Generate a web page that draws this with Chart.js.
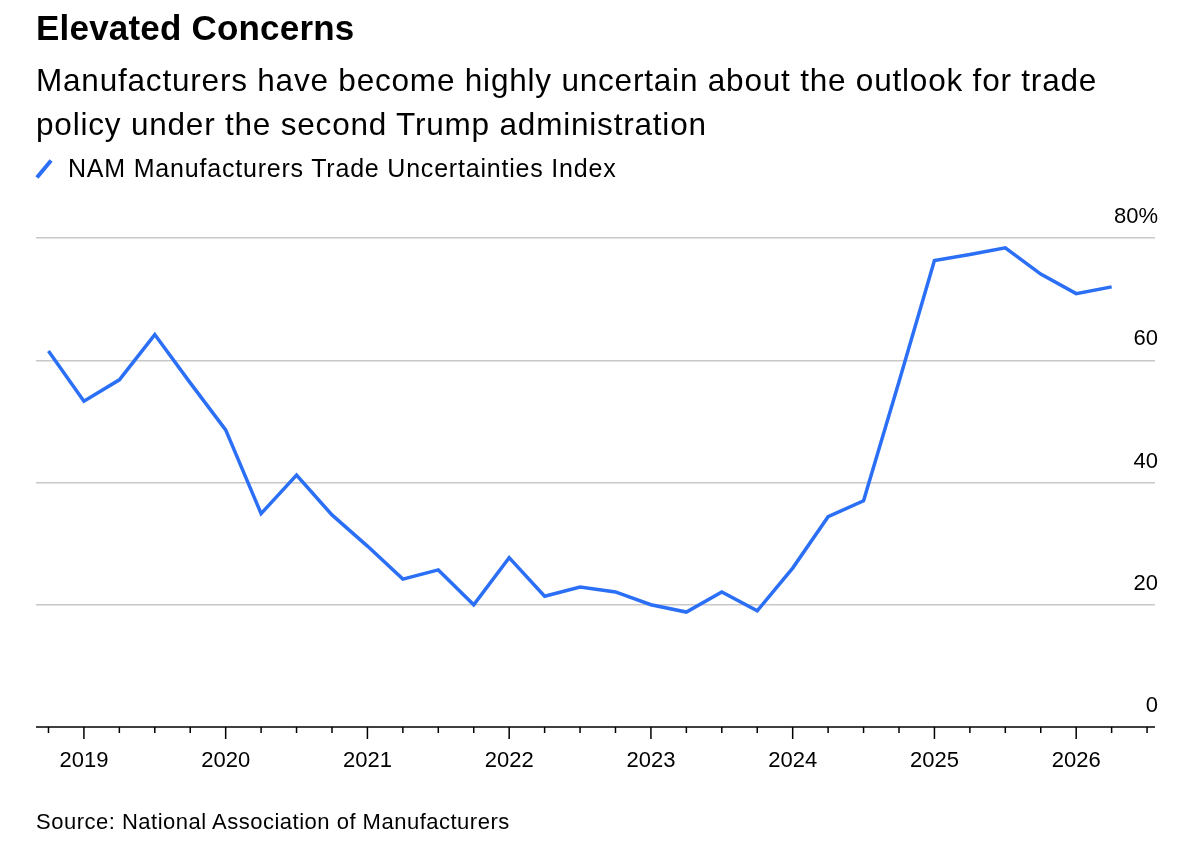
<!DOCTYPE html>
<html>
<head>
<meta charset="utf-8">
<script src="https://cdn.jsdelivr.net/npm/chart.js@4"></script>
<style>
  body { margin: 0; background: #fff; font-family: "Liberation Sans", Arial, sans-serif; color: #000; }
  #wrap { position: relative; width: 1200px; height: 858px; }
  canvas { position: absolute; left: 0; top: 0; }
  .title { position: absolute; left: 36px; top: 8px; font-size: 35px; font-weight: bold; letter-spacing: 0.2px; }
  .sub { position: absolute; left: 36px; top: 58px; font-size: 31.5px; letter-spacing: 0.8px; line-height: 44px; width: 1125px; }
  .legend { position: absolute; left: 36px; top: 154px; font-size: 25px; letter-spacing: 0.8px; }
  .legend i { display: inline-block; width: 4px; height: 22px; background: #2a6ff5; transform: rotate(40deg); margin: 0 22px -3px 6px; }
  .source { position: absolute; left: 36px; top: 809px; font-size: 22px; letter-spacing: 0.5px; }
</style>
</head>
<body>
<div id="wrap">
  <canvas id="c" width="1200" height="858"></canvas>
  <div class="title">Elevated Concerns</div>
  <div class="sub">Manufacturers have become highly uncertain about the outlook for trade policy under the second Trump administration</div>
  <div class="legend"><i></i>NAM Manufacturers Trade Uncertainties Index</div>
  <div class="source">Source: National Association of Manufacturers</div>
</div>
<script>
// quarterly, starting 2018 Q4
const startYear = 2018.75;
const values = [61.5, 53.3, 56.8, 64.2, 56.3, 48.6, 34.9, 41.2, 34.7, 29.6, 24.2, 25.7,
  20.0, 27.7, 21.4, 22.9, 22.1, 20.0, 18.8, 22.1, 19.0, 26.0, 34.4, 37.0,
  56.5, 76.3, 77.3, 78.4, 74.1, 70.9, 72.0];
const yearTicks = [2019, 2020, 2021, 2022, 2023, 2024, 2025, 2026];
const yTicks = [0, 20, 40, 60, 80];

const points = values.map((v, i) => ({ x: startYear + i * 0.25, y: v }));

const axisTicks = {
  id: 'axisTicks',
  afterDraw(chart) {
    const { ctx, scales: { x }, chartArea } = chart;
    ctx.save();
    ctx.strokeStyle = '#000';
    ctx.lineWidth = 1.5;
    ctx.beginPath();
    ctx.moveTo(chartArea.left, chartArea.bottom);
    ctx.lineTo(chartArea.right, chartArea.bottom);
    ctx.stroke();
    for (let q = 2018.75; q <= x.max; q += 0.25) {
      const px = x.getPixelForValue(q);
      const big = Math.abs(q - Math.round(q)) < 0.01;
      ctx.beginPath();
      ctx.moveTo(px, chartArea.bottom);
      ctx.lineTo(px, chartArea.bottom + (big ? 12 : 6));
      ctx.stroke();
    }
    ctx.restore();
  }
};

const tickFont = { family: 'Liberation Sans', size: 22 };

new Chart(document.getElementById('c'), {
  type: 'line',
  data: {
    datasets: [{
      data: points,
      borderColor: '#2a6ff5',
      borderWidth: 3.5,
      pointRadius: 0,
      tension: 0
    }]
  },
  options: {
    responsive: false,
    animation: false,
    layout: { padding: { top: 238, left: 36, right: 45, bottom: 0 } },
    plugins: { legend: { display: false }, tooltip: { enabled: false } },
    scales: {
      x: {
        type: 'linear',
        min: 2018.662,
        max: 2026.556,
        afterBuildTicks: s => { s.ticks = yearTicks.map(v => ({ value: v })); },
        afterFit: s => { s.height = 131; },
        grid: { display: false },
        border: { display: false },
        ticks: { padding: 13, color: '#000', font: tickFont, callback: v => String(v) }
      },
      y: {
        position: 'right',
        min: 0,
        max: 80,
        afterBuildTicks: s => { s.ticks = yTicks.map(v => ({ value: v })); },
        afterFit: s => { s.width = 0; },
        grid: { color: v => v.tick.value === 0 ? 'rgba(0,0,0,0)' : '#c8c8c8', lineWidth: 1.5, drawTicks: false },
        border: { display: false },
        ticks: {
          mirror: true, padding: 3, labelOffset: -21, color: '#000',
          font: tickFont,
          callback: v => v === 80 ? '80%' : String(v)
        }
      }
    }
  },
  plugins: [axisTicks]
});
</script>
</body>
</html>
